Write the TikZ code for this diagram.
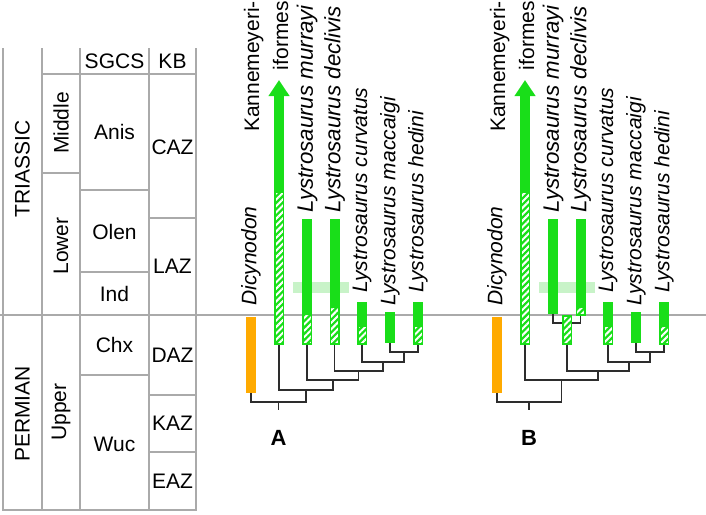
\documentclass[tikz,border=0pt]{standalone}
\usepackage{fontspec}
\setmainfont{Liberation Sans}
\usetikzlibrary{arrows.meta,patterns.meta}
\definecolor{lgreen}{RGB}{25,222,25}
\definecolor{lorange}{RGB}{255,170,0}
\definecolor{paleband}{RGB}{200,243,200}
\definecolor{tgray}{RGB}{170,170,170}
\definecolor{tline}{RGB}{45,45,45}
\begin{document}
\begin{tikzpicture}[x=1pt,y=-1pt,>={Triangle[width=20pt,length=16pt]},
	tabline/.style={draw=tgray,line width=2.8pt},
	txt/.style={font=\fontsize{21}{25}\selectfont,inner sep=1pt},
	taxon/.style={font=\fontsize{21}{25}\selectfont\itshape,rotate=90,anchor=west,inner sep=0pt},
	sbar/.style={fill=lgreen,minimum width=10pt,inner sep=0pt,anchor=north},
	obar/.style={fill=lorange,minimum width=10pt,inner sep=0pt,anchor=north},
	hbar/.style={draw=lgreen,line width=1.5pt,preaction={fill=lgreen},
		pattern={Lines[angle=45,distance=4.5pt,line width=2pt]},pattern color=white,
		minimum width=8.5pt,inner sep=0pt,anchor=north},
	branch/.style={draw=tline,line width=1.4pt}]
	\useasboundingbox (0,0) rectangle (706,514);
	
	% tabla
	\draw[tabline] (3,48) -- (3,510) -- (196,510) -- (196,48);
	\draw[tabline] (42,48) -- (42,510);
	\draw[tabline] (80,48) -- (80,510);
	\draw[tabline] (149,48) -- (149,510);
	\draw[tabline] (42,74) -- (196,74);
	\draw[tabline] (42,173) -- (80,173);
	\draw[tabline] (80,190) -- (149,190);
	\draw[tabline] (80,272) -- (149,272);
	\draw[tabline] (149,218) -- (196,218);
	\draw[tabline] (80,375) -- (149,375);
	\draw[tabline] (149,395) -- (196,395);
	\draw[tabline] (149,452) -- (196,452);
	\draw[draw=tgray,line width=2.4pt] (0,315) -- (706,315);
	
	\node[txt,rotate=90] (trias) at (22.5,169) {TRIASSIC};
	\node[txt,rotate=90] (perm) at (22.5,414) {PERMIAN};
	\node[txt,rotate=90] (middle) at (61,123) {Middle};
	\node[txt,rotate=90] (lower) at (61,246) {Lower};
	\node[txt,rotate=90] (upper) at (61,412) {Upper};
	\node[txt] (sgcs) at (114.5,61) {SGCS};
	\node[txt] (kb) at (172.5,61) {KB};
	\node[txt] (anis) at (114.5,132) {Anis};
	\node[txt] (olen) at (114.5,232) {Olen};
	\node[txt] (ind) at (114.5,294) {Ind};
	\node[txt] (chx) at (114.5,345) {Chx};
	\node[txt] (wuc) at (114.5,444) {Wuc};
	\node[txt] (caz) at (172.5,147) {CAZ};
	\node[txt] (laz) at (172.5,266) {LAZ};
	\node[txt] (daz) at (172.5,355) {DAZ};
	\node[txt] (kaz) at (172.5,423) {KAZ};
	\node[txt] (eaz) at (172.5,481) {EAZ};
	
	% halvany savok
	\fill[paleband] (293,282) rectangle (349,293);
	\fill[paleband] (539,282) rectangle (595,293);
	
	% A: oszlopok
	\node[obar,minimum height=76pt] (Adic) at (251,317) {};
	\node[hbar,minimum height=152pt] (Akan) at (279,191) {};
	\draw[->,lgreen,line width=10pt] (Akan.north) -- (279,80);
	\node[sbar,minimum height=94pt] (Amurs) at (307,219) {};
	\node[hbar,minimum height=30pt] (Amur) at (Amurs.south) {};
	\node[sbar,minimum height=87pt] (Adecs) at (334.5,219) {};
	\node[hbar,minimum height=37pt] (Adec) at (Adecs.south) {};
	\node[sbar,minimum height=23pt] (Acurs) at (362,302) {};
	\node[hbar,minimum height=18pt] (Acur) at (Acurs.south) {};
	\node[sbar,minimum height=31pt] (Amac) at (390,312) {};
	\node[sbar,minimum height=23pt] (Aheds) at (418,302) {};
	\node[hbar,minimum height=18pt] (Ahed) at (Aheds.south) {};
	
	% A: fa
	\coordinate (An1) at (404,352);
	\coordinate (An2) at (383,362);
	\coordinate (An3) at (358.5,371);
	\coordinate (An4) at (333,380);
	\coordinate (An5) at (306,390);
	\coordinate (An6) at (278.5,402);
	\draw[branch] (Amac.south) |- (An1) -| (Ahed.south);
	\draw[branch] (Acur.south) |- (An2) -| (An1);
	\draw[branch] (Adec.south) |- (An3) -| (An2);
	\draw[branch] (Amur.south) |- (An4) -| (An3);
	\draw[branch] (Akan.south) |- (An5) -| (An4);
	\draw[branch] (Adic.south) |- (An6) -| (An5);
	\draw[branch] (An6) -- ++(0,8);
	
	% A: nevek
	\node[taxon] (Adicl) at (251,306) {Dicynodon};
	\node[txt,rotate=90,anchor=east,align=right,inner sep=0pt,
		font=\fontsize{21}{29}\selectfont] (Akanl) at (266,1) {Kannemeyeri-\\iformes};
	\node[taxon,font=\fontsize{22.3}{26}\selectfont\itshape] (Amurl) at (307,213) {Lystrosaurus murrayi};
	\node[taxon,font=\fontsize{22.3}{26}\selectfont\itshape] (Adecl) at (334.5,213) {Lystrosaurus declivis};
	\node[taxon] (Acurl) at (362,293) {Lystrosaurus curvatus};
	\node[taxon] (Amacl) at (390,306) {Lystrosaurus maccaigi};
	\node[taxon] (Ahedl) at (418,293) {Lystrosaurus hedini};
	\node[font=\fontsize{22}{26}\selectfont\bfseries] (Alab) at (278.5,438) {A};
	
	% B: oszlopok
	\node[obar,minimum height=76pt] (Bdic) at (497,317) {};
	\node[hbar,minimum height=152pt] (Bkan) at (525,191) {};
	\draw[->,lgreen,line width=10pt] (Bkan.north) -- (525,80);
	\node[sbar,minimum height=95pt] (Bmur) at (553,219) {};
	\node[sbar,minimum height=87pt] (Bdecs) at (580.5,219) {};
	\node[hbar,minimum height=8pt] (Bdec) at (Bdecs.south) {};
	\coordinate (Bn0) at (567,323);
	\draw[branch] (Bmur.south) |- (Bn0) -| (Bdec.south);
	\node[hbar,minimum height=28pt] (Banc) at (567,315) {};
	\node[sbar,minimum height=23pt] (Bcurs) at (608,302) {};
	\node[hbar,minimum height=18pt] (Bcur) at (Bcurs.south) {};
	\node[sbar,minimum height=31pt] (Bmac) at (636,312) {};
	\node[sbar,minimum height=23pt] (Bheds) at (664,302) {};
	\node[hbar,minimum height=18pt] (Bhed) at (Bheds.south) {};
	
	% B: fa
	\coordinate (Bn1) at (650,352);
	\coordinate (Bn2) at (629,362);
	\coordinate (Bn3) at (598,371);
	\coordinate (Bn4) at (561.5,380);
	\coordinate (Bn5) at (529,402);
	\draw[branch] (Bmac.south) |- (Bn1) -| (Bhed.south);
	\draw[branch] (Bcur.south) |- (Bn2) -| (Bn1);
	\draw[branch] (Banc.south) |- (Bn3) -| (Bn2);
	\draw[branch] (Bkan.south) |- (Bn4) -| (Bn3);
	\draw[branch] (Bdic.south) |- (Bn5) -| (Bn4);
	\draw[branch] (Bn5) -- ++(0,8);
	
	% B: nevek
	\node[taxon] (Bdicl) at (497,306) {Dicynodon};
	\node[txt,rotate=90,anchor=east,align=right,inner sep=0pt,
		font=\fontsize{21}{29}\selectfont] (Bkanl) at (512,1) {Kannemeyeri-\\iformes};
	\node[taxon,font=\fontsize{22.3}{26}\selectfont\itshape] (Bmurl) at (553,213) {Lystrosaurus murrayi};
	\node[taxon,font=\fontsize{22.3}{26}\selectfont\itshape] (Bdecl) at (580.5,213) {Lystrosaurus declivis};
	\node[taxon] (Bcurl) at (608,293) {Lystrosaurus curvatus};
	\node[taxon] (Bmacl) at (636,306) {Lystrosaurus maccaigi};
	\node[taxon] (Bhedl) at (664,293) {Lystrosaurus hedini};
	\node[font=\fontsize{22}{26}\selectfont\bfseries] (Blab) at (529,438) {B};
\end{tikzpicture}
\end{document}
